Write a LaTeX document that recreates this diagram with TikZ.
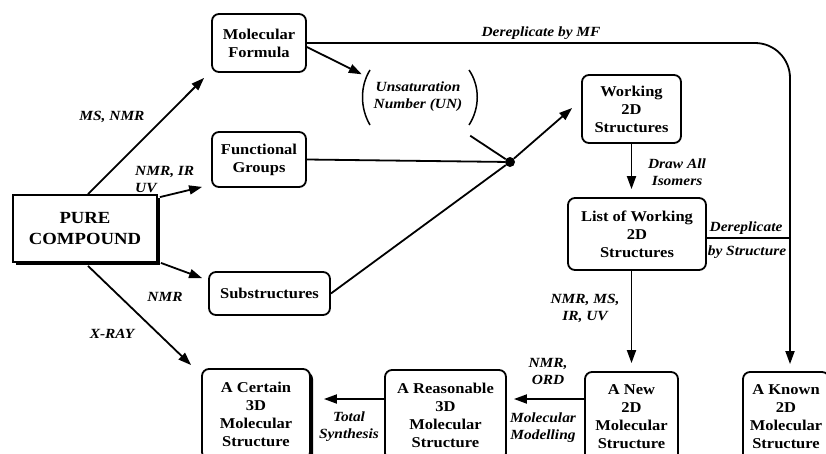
\documentclass[tikz,border=0pt]{standalone}
\usepackage{fontspec}
\setmainfont{Liberation Serif}[FakeStretch=1.1]
\usetikzlibrary{arrows.meta,calc,shadows}
\begin{document}
\begin{tikzpicture}[x=1pt,y=-1pt,
  box/.style={draw, line width=1.8pt, rounded corners=7pt, align=center,
    font=\bfseries\fontsize{15}{18}\selectfont, inner sep=0pt, fill=white},
  conn/.style={line width=1.8pt},
  arr/.style={conn, -{Triangle[length=13pt,width=9pt]}},
  lbl/.style={font=\bfseries\itshape\fontsize{14}{17}\selectfont, align=center, inner sep=0pt},
  shad/.style={drop shadow={shadow xshift=3pt, shadow yshift=-3pt, fill=black, opacity=1}}
]
\useasboundingbox (0,0) rectangle (826,453);
\clip (0,0) rectangle (826,453);

% boxes
\node[box, sharp corners, shad, minimum width=144, minimum height=67,
  font=\bfseries\fontsize{17}{21}\selectfont] (pure) at (85,228.5) {PURE\\COMPOUND};
\node[box, minimum width=94, minimum height=58] (mf) at (259,43) {Molecular\\Formula};
\node[box, minimum width=94, minimum height=55] (fg) at (259,159.5) {Functional\\Groups};
\node[box, minimum width=121, minimum height=43] (sub) at (269.5,293.5) {Substructures};
\node[lbl, minimum width=116, minimum height=53] (un) at (418,97) {Unsaturation\\Number (UN)};
\node[circle, fill, inner sep=0pt, minimum size=10] (dot) at (510,162) {};
\node[box, minimum width=99, minimum height=68] (work) at (631.5,109) {Working\\2D\\Structures};
\node[box, minimum width=138, minimum height=72] (list) at (637,234) {List of Working\\2D\\Structures};
\node[box, minimum width=93, minimum height=90] (new) at (631.5,417) {A New\\2D\\Molecular\\Structure};
\node[box, minimum width=86, minimum height=90] (known) at (786,417) {A Known\\2D\\Molecular\\Structure};
\node[box, minimum width=121, minimum height=90] (reas) at (445.5,415) {A Reasonable\\3D\\Molecular\\Structure};
\node[box, shad, minimum width=108, minimum height=90] (cert) at (256,414) {A Certain\\3D\\Molecular\\Structure};
\coordinate (kin) at ($(known.north)+(4,0)$);

% parentheses around UN
\draw[line width=1.5pt] (370,70) .. controls (360,86) and (360,108) .. (370,125);
\draw[line width=1.5pt] (469,70) .. controls (480,86) and (480,108) .. (469,125);

% connectors
\draw[arr] ($(pure.north)+(3,0)$) -- ($(mf.south west)+(-7,5)$);
\draw[arr] ($(pure.north east)+(2,3)$) -- ($(fg.south west)+(-9,-1)$);
\draw[arr] ($(pure.south east)+(3,0)$) -- ($(sub.north west)+(-6,7)$);
\draw[arr] ($(pure.south)+(3,3)$) -- ($(cert.north west)+(-10,-3)$);
\draw[arr] ($(mf.east)+(0,4)$) -- ($(un.north west)+(2,4)$);
\draw[arr, rounded corners=35pt, shorten >=7pt] (mf.east) -- (mf.east -| kin) -- (kin);
\draw[conn] (fg.east) -- (dot);
\draw[conn] ($(un.south east)+(-6,12)$) -- (dot);
\draw[conn] (sub.east) -- (dot);
\draw[arr] (dot) -- ($(work.west)+(-9,-1)$);
\draw[arr, shorten >=8pt] (work.south) -- (work.south |- list.north);
\coordinate (ds) at ($(list.east)+(0,4)$);
\draw[conn] (ds) -- (ds -| kin);
\draw[arr, shorten >=8pt] (new.north |- list.south) -- (new.north);
\draw[arr] ($(new.west)+(0,-18)$) -- ($(reas.east)+(7,-16)$);
\draw[arr] ($(reas.west)+(0,-16)$) -- ($(cert.east)+(13,-15)$);

% labels
\node[lbl] (lmsnmr) at (112,117) {MS, NMR};
\node[lbl, align=left, anchor=west] (lnmrir) at (135,180) {NMR, IR\\UV};
\node[lbl] (lnmr) at (165,297) {NMR};
\node[lbl] (lxray) at (112,334) {X-RAY};
\node[lbl] (lmf) at (541,33) {Dereplicate by MF};
\node[lbl] (ldraw) at (677,172) {Draw All\\Isomers};
\node[lbl] (lds1) at (746,228) {Dereplicate};
\node[lbl] (lds2) at (747,252) {by Structure};
\node[lbl] (lnmrms) at (585,308) {NMR, MS,\\IR, UV};
\node[lbl] (lord) at (548,371) {NMR,\\ORD};
\node[lbl] (lmod) at (543,428) {Molecular\\Modelling};
\node[lbl] (ltot) at (349,427) {Total\\Synthesis};
\end{tikzpicture}
\end{document}
